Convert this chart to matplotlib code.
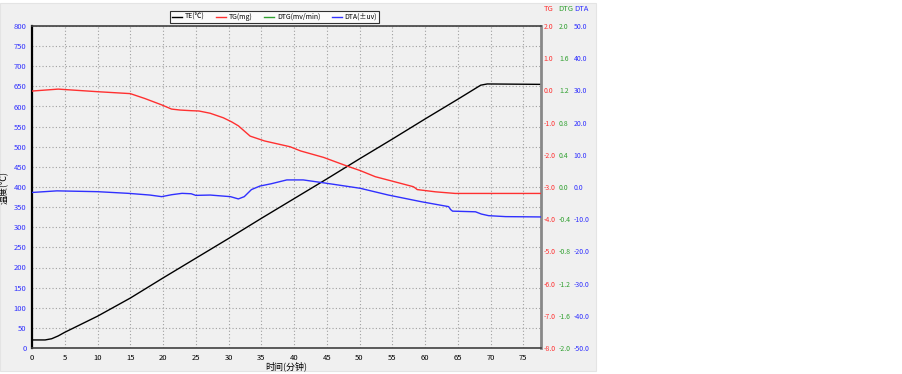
import matplotlib
matplotlib.use("Agg")
import matplotlib.pyplot as plt
from matplotlib.patches import Rectangle
from matplotlib.ticker import FormatStrFormatter, MultipleLocator

plt.rcParams['font.family'] = ['Noto Sans CJK SC', 'DejaVu Sans']

# data
te_time = [0, 2, 3, 4, 5, 7, 10, 12, 15, 20, 25, 30, 35, 40, 45, 50, 55, 60,
           65, 67.5, 68.5, 69.5, 77.7]
te_temp = [20, 20, 23, 30, 39, 55, 79, 97, 124, 174, 223, 272, 322, 371, 420,
           470, 519, 569, 618, 643, 653, 656, 655]

tg_time = [0, 4, 10, 15, 17.2, 19.8, 21.3, 22.6, 24.3, 25.5, 27.2, 29.2, 30.5,
           31.5, 33.3, 35.5, 39.4, 41, 44.5, 48.1, 50.1, 52.4, 55.4, 58.2,
           58.5, 58.8, 61.6, 64.6, 77.7]
tg_mg = [-0.02, 0.04, -0.04, -0.10, -0.25, -0.45, -0.58, -0.61, -0.63, -0.64,
         -0.71, -0.85, -0.98, -1.10, -1.42, -1.57, -1.75, -1.88, -2.08, -2.35,
         -2.49, -2.68, -2.84, -2.99, -3.03, -3.08, -3.15, -3.20, -3.20]

dta_time = [0, 3.8, 10, 14.7, 18, 19.8, 21.3, 22.9, 24.3, 25, 27.2, 30.3,
            31.5, 32.4, 33.5, 34.8, 36.5, 38.9, 41.4, 44.5, 50.1, 54.4, 59.5,
            63.6, 63.9, 64.2, 67.7, 68.6, 69.7, 72.3, 77.7]
dta_uv = [-1.7, -1.2, -1.45, -1.97, -2.5, -3.0, -2.4, -1.97, -2.1, -2.6, -2.5,
          -3.0, -3.7, -3.0, -0.8, 0.3, 1.0, 2.2, 2.2, 1.3, -0.4, -2.5, -4.6,
          -6.1, -7.0, -7.5, -7.7, -8.4, -8.9, -9.2, -9.3]

dtg_time = []
dtg_val = []

W, H = 903, 374
bg = "#f0f0f0"
fig = plt.figure(figsize=(W / 100, H / 100), dpi=100, facecolor="white")
fig.patches.append(Rectangle((0, 3 / H), 596 / W, 368 / H, transform=fig.transFigure,
                             facecolor=bg, edgecolor="#e4e4e4", lw=0.8, zorder=-5))

ax = fig.add_axes([32 / W, 1 - 348 / H, (541 - 32) / W, (348 - 26) / H])
ax.set_facecolor(bg)

l_te, = ax.plot(te_time, te_temp, color="black", lw=1, label="TE(℃)")
ax.set_xlim(0, 77.7)
ax.set_ylim(0, 800)
ax.xaxis.set_major_locator(MultipleLocator(5))
ax.yaxis.set_major_locator(MultipleLocator(50))
ax.grid(True, color="#a0a0a0", lw=0.8, linestyle=(0, (1, 2)))
ax.tick_params(axis="both", length=0, labelsize=5.5)
ax.tick_params(axis="y", colors="#3030ff", pad=4)
ax.tick_params(axis="x", pad=4)
ax.set_xlabel("时间(分钟)", fontsize=6.5, labelpad=0)
ax.set_ylabel("温度(℃)", fontsize=6.5, labelpad=3)

ax.spines["left"].set_color("black")
ax.spines["left"].set_linewidth(1.6)
ax.spines["right"].set_color("#888888")
ax.spines["right"].set_linewidth(2)
for s in ["top", "bottom"]:
    ax.spines[s].set_color("#404040")
    ax.spines[s].set_linewidth(1.2)
    ax.spines[s].set_linestyle((0, (1.5, 1)))

# right-hand scales
def right_axis(lo, hi, step, color, offset):
    a = ax.twinx()
    a.set_ylim(lo, hi)
    a.yaxis.set_major_locator(MultipleLocator(step))
    a.yaxis.set_major_formatter(FormatStrFormatter("%.1f"))
    a.tick_params(axis="y", length=0, labelsize=5, colors=color, pad=2)
    for s in a.spines.values():
        s.set_visible(False)
    a.spines["right"].set_position(("outward", offset))
    a.patch.set_visible(False)
    return a

ax_tg = right_axis(-8, 2, 1, "#ff3030", 0)
ax_dtg = right_axis(-2, 2, 0.4, "#30a030", 11)
ax_dta = right_axis(-50, 50, 10, "#3030ff", 21.5)

l_tg, = ax_tg.plot(tg_time, tg_mg, color="#ff3030", lw=1, label="TG(mg)")
l_dtg, = ax_dtg.plot(dtg_time, dtg_val, color="#30a030", lw=1, label="DTG(mv/min)")
l_dta, = ax_dta.plot(dta_time, dta_uv, color="#3030ff", lw=1, label="DTA(±uv)")

fig.text(549 / W, 1 - 9 / H, "TG", color="#ff3030", fontsize=5.5, ha="center", va="center")
fig.text(566 / W, 1 - 9 / H, "DTG", color="#30a030", fontsize=5.5, ha="center", va="center")
fig.text(581 / W, 1 - 9 / H, "DTA", color="#3030ff", fontsize=5.5, ha="center", va="center")

leg = fig.legend(handles=[l_te, l_tg, l_dtg, l_dta], ncol=4, fontsize=5,
                 loc="center", bbox_to_anchor=(274.5 / W, 1 - 17 / H),
                 frameon=True, fancybox=False, handlelength=1.5, columnspacing=1.6,
                 borderpad=0.25, handletextpad=0.4)
leg.get_frame().set_edgecolor("black")
leg.get_frame().set_linewidth(0.8)
leg.get_frame().set_facecolor("white")

fig.savefig("out.png", dpi=100, facecolor="white")
